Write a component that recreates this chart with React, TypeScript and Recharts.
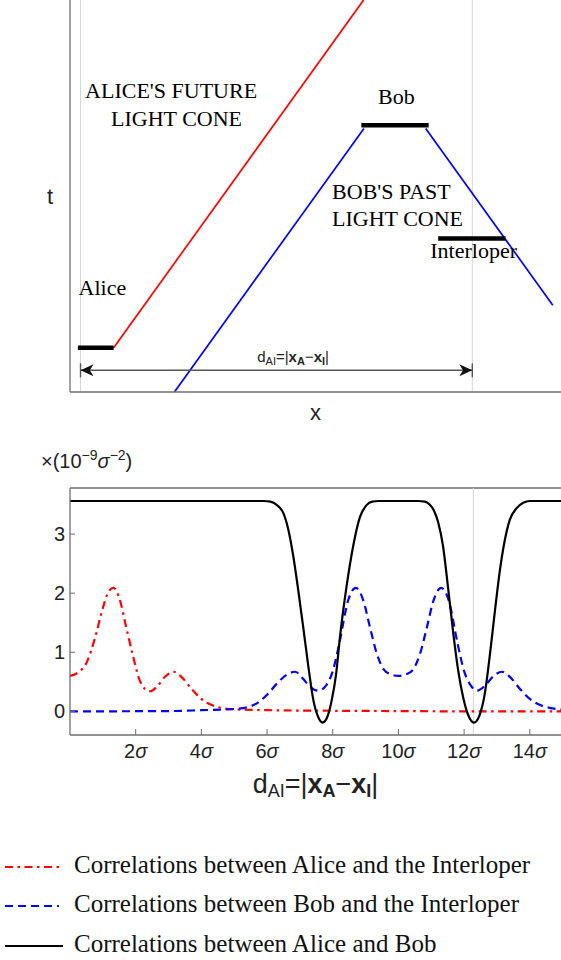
import React from 'react';
import { ComposedChart, Line, XAxis, YAxis, ReferenceLine, ReferenceDot } from 'recharts';

const SERIF = "'Liberation Serif', 'Times New Roman', serif";
const SANS = "'Liberation Sans', Arial, sans-serif";
const AXIS = '#6e6e6e';

// ---------- Top: spacetime diagram (diagram units) ----------
const detectorNames = ['Alice', 'Bob', 'Interloper'];
const detectorXStart = [0.24, 8.87, 11.21];
const detectorXEnd = [1.33, 10.92, 13.26];
const detectorT = [0.97, 5.84, 3.36];

const aliceConeX = [1.33, 8.94];
const aliceConeT = [0.97, 8.58];
const bobConeLeftX = [8.95, 3.18];
const bobConeLeftT = [5.77, 0];
const bobConeRightX = [10.83, 14.7];
const bobConeRightT = [5.77, 1.9];

const positionMarksX = [0.32, 12.25]; // x_A and x_I
const separationT = 0.475;

const annotationText = ["ALICE'S FUTURE", 'LIGHT CONE', 'Bob', "BOB'S PAST", 'LIGHT CONE', 'Interloper', 'Alice'];
const annotationX = [0.46, 1.25, 9.38, 7.98, 7.98, 10.97, 0.26];
const annotationT = [6.44, 5.83, 6.3, 4.22, 3.64, 2.93, 2.12];
const separationLabelX = 5.7;
const separationLabelT = 0.66;

// ---------- Bottom: correlations vs d_AI (in sigma) ----------
const aliceInterloperX = [0, 0.25, 0.5, 0.75, 1.0, 1.15, 1.32, 1.5, 1.7, 1.9, 2.1, 2.28, 2.44, 2.65, 2.9, 3.15, 3.4, 3.7, 4.0, 4.3, 4.6, 5.0, 6.0, 8.0, 10.0, 12.0, 15.0];
const aliceInterloperY = [0.6, 0.66, 0.82, 1.22, 1.75, 2.0, 2.09, 1.92, 1.45, 0.98, 0.56, 0.38, 0.34, 0.42, 0.59, 0.67, 0.58, 0.38, 0.21, 0.11, 0.06, 0.035, 0.02, 0.01, 0.005, 0.0, 0.0];

const bobInterloperX = [0, 3.0, 4.0, 5.0, 5.4, 5.7, 6.0, 6.3, 6.6, 6.85, 7.1, 7.3, 7.56, 7.8, 8.0, 8.2, 8.47, 8.7, 8.93, 9.13, 9.34, 9.55, 9.75, 10.0, 10.25, 10.45, 10.66, 10.87, 11.07, 11.3, 11.53, 11.8, 12.0, 12.2, 12.4, 12.66, 12.9, 13.15, 13.4, 13.7, 14.0, 14.3, 14.6, 15.0];
const bobInterloperY = [0, 0.005, 0.02, 0.04, 0.07, 0.14, 0.28, 0.47, 0.62, 0.67, 0.55, 0.42, 0.35, 0.44, 0.68, 1.15, 1.88, 2.09, 1.88, 1.43, 0.98, 0.71, 0.63, 0.6, 0.63, 0.71, 0.98, 1.43, 1.88, 2.09, 1.88, 1.15, 0.68, 0.44, 0.35, 0.45, 0.6, 0.67, 0.58, 0.38, 0.21, 0.11, 0.06, 0.03];

const aliceBobX = [0, 5.9, 6.1, 6.3, 6.5, 6.65, 6.8, 6.95, 7.1, 7.26, 7.41, 7.56, 7.69, 7.83, 7.97, 8.1, 8.22, 8.42, 8.62, 8.83, 9.03, 9.2, 9.4, 10.6, 10.8, 10.95, 11.08, 11.21, 11.36, 11.52, 11.67, 11.82, 11.97, 12.13, 12.3, 12.46, 12.63, 12.79, 12.94, 13.09, 13.24, 13.39, 13.6, 13.8, 14.0, 15.0];
const aliceBobY = [3.56, 3.56, 3.55, 3.49, 3.35, 3.07, 2.62, 2.05, 1.43, 0.75, 0.19, -0.1, -0.19, -0.1, 0.19, 0.62, 1.26, 2.11, 2.79, 3.29, 3.49, 3.55, 3.56, 3.56, 3.55, 3.5, 3.4, 3.2, 2.79, 2.05, 1.32, 0.69, 0.24, -0.07, -0.19, -0.08, 0.3, 0.98, 1.71, 2.39, 2.9, 3.24, 3.44, 3.53, 3.56, 3.56];

const xTicks = [2, 4, 6, 8, 10, 12, 14];
const yTicks = [0, 1, 2, 3];
const interloperMarkX = 12.28;
const yDomain = [-0.4, 3.78];

const seriesNames = [
  'Correlations between Alice and the Interloper',
  'Correlations between Bob and the Interloper',
  'Correlations between Alice and Bob',
];
const seriesColors = ['#ff0000', '#0000ff', '#000000'];
const seriesDash = ['8 4.5 2.5 4.5', '8 5', ''];

const zipXY = (xs: number[], ys: number[], key: string) => xs.map((x, i) => ({ x, [key]: ys[i] }));

const textShape = (content: string) => (p: any) => (
  <text x={p.cx} y={p.cy} fontFamily={SERIF} fontSize={22} fill="#000">
    {content}
  </text>
);

const separationLabelShape = (p: any) => (
  <text x={p.cx} y={p.cy} fontFamily={SANS} fontSize={15} fill="#222">
    d<tspan fontSize={11} dy={3}>AI</tspan>
    <tspan dy={-3}>=|</tspan>
    <tspan fontWeight="bold">x</tspan>
    <tspan fontWeight="bold" fontSize={11} dy={3}>A</tspan>
    <tspan dy={-3}>−</tspan>
    <tspan fontWeight="bold">x</tspan>
    <tspan fontWeight="bold" fontSize={11} dy={3}>I</tspan>
    <tspan dy={-3}>|</tspan>
  </text>
);

const arrowShape = (p: any) => {
  const { x1, y1, x2 } = p;
  const y = y1;
  const L = 13;
  const H = 6;
  return (
    <g>
      <line x1={x1} y1={y} x2={x2} y2={y} stroke="#555" strokeWidth={1.4} />
      <line x1={x1} y1={y - 7} x2={x1} y2={y + 7} stroke="#555" strokeWidth={1.4} />
      <line x1={x2} y1={y - 7} x2={x2} y2={y + 7} stroke="#555" strokeWidth={1.4} />
      <polygon points={`${x1},${y} ${x1 + L},${y - H} ${x1 + L * 0.72},${y} ${x1 + L},${y + H}`} fill="#111" />
      <polygon points={`${x2},${y} ${x2 - L},${y - H} ${x2 - L * 0.72},${y} ${x2 - L},${y + H}`} fill="#111" />
    </g>
  );
};

const XTick = (p: any) => {
  const { x, y, payload } = p;
  return (
    <g>
      <line x1={x} y1={y - 6} x2={x} y2={y} stroke={AXIS} strokeWidth={1} />
      <text x={x} y={y + 23} textAnchor="middle" fontFamily={SANS} fontSize={20} fill="#222">
        {payload.value}
        <tspan fontStyle="italic">σ</tspan>
      </text>
    </g>
  );
};

const YTick = (p: any) => {
  const { x, y, payload } = p;
  return (
    <g>
      <line x1={x} y1={y} x2={x + 5} y2={y} stroke={AXIS} strokeWidth={1} />
      <text x={x - 5} y={y + 7} textAnchor="end" fontFamily={SANS} fontSize={20} fill="#222">
        {payload.value}
      </text>
    </g>
  );
};

const yUnitLabel = (p: any) => {
  const vb = p.viewBox || { x: 0, y: 488 };
  return (
    <text x={vb.x + 41} y={vb.y - 20} fontFamily={SANS} fontSize={20} fill="#222">
      ×(10<tspan fontSize={14} dy={-8}>−9</tspan>
      <tspan dy={8} fontStyle="italic">σ</tspan>
      <tspan fontSize={14} dy={-8}>−2</tspan>
      <tspan dy={8}>)</tspan>
    </text>
  );
};

const xTitleLabel = (p: any) => {
  const vb = p.viewBox || { x: 70, y: 735, width: 491 };
  return (
    <text x={vb.x + vb.width / 2} y={vb.y + 58} textAnchor="middle" fontFamily={SANS} fontSize={27} fill="#222">
      d<tspan fontSize={18} dy={4}>AI</tspan>
      <tspan dy={-4}>=|</tspan>
      <tspan fontWeight="bold">x</tspan>
      <tspan fontWeight="bold" fontSize={18} dy={4}>A</tspan>
      <tspan dy={-4}>−</tspan>
      <tspan fontWeight="bold">x</tspan>
      <tspan fontWeight="bold" fontSize={18} dy={4}>I</tspan>
      <tspan dy={-4}>|</tspan>
    </text>
  );
};

const tLabel = (p: any) => {
  const vb = p.viewBox || { x: 0, y: 0, height: 392 };
  return (
    <text x={50} y={vb.y + vb.height / 2 + 8} textAnchor="middle" fontFamily={SANS} fontSize={22} fill="#222">
      t
    </text>
  );
};

const xLabel = (p: any) => {
  const vb = p.viewBox || { x: 70, y: 392, width: 491 };
  return (
    <text x={vb.x + vb.width / 2} y={vb.y + 28} textAnchor="middle" fontFamily={SANS} fontSize={22} fill="#222">
      x
    </text>
  );
};

function SpacetimeDiagram() {
  const aliceCone = zipXY(aliceConeX, aliceConeT, 't');
  const bobLeft = zipXY(bobConeLeftX, bobConeLeftT, 't');
  const bobRight = zipXY(bobConeRightX, bobConeRightT, 't');
  return (
    <ComposedChart width={561} height={430} margin={{ top: 0, right: 0, bottom: 0, left: 0 }}>
      <XAxis
        type="number"
        dataKey="x"
        domain={[0, 14.95]}
        allowDataOverflow
        height={38}
        tick={false}
        tickLine={false}
        axisLine={{ stroke: AXIS, strokeWidth: 1.3 }}
        label={{ content: xLabel }}
      />
      <YAxis
        type="number"
        dataKey="t"
        domain={[0, 8.58]}
        allowDataOverflow
        width={70}
        tick={false}
        tickLine={false}
        axisLine={{ stroke: AXIS, strokeWidth: 1.3 }}
        label={{ content: tLabel }}
      />
      {positionMarksX.map((x, i) => (
        <ReferenceLine key={'pm' + i} x={x} stroke="#d6d6d6" strokeWidth={1} />
      ))}
      <Line data={aliceCone} dataKey="t" type="linear" stroke="#ff0000" strokeWidth={1.7} dot={false} isAnimationActive={false} />
      <Line data={bobLeft} dataKey="t" type="linear" stroke="#0000ff" strokeWidth={1.7} dot={false} isAnimationActive={false} />
      <Line data={bobRight} dataKey="t" type="linear" stroke="#0000ff" strokeWidth={1.7} dot={false} isAnimationActive={false} />
      {detectorNames.map((n, i) => (
        <ReferenceLine
          key={n}
          segment={[
            { x: detectorXStart[i], y: detectorT[i] },
            { x: detectorXEnd[i], y: detectorT[i] },
          ]}
          stroke="#000"
          strokeWidth={4.5}
        />
      ))}
      <ReferenceLine
        segment={[
          { x: positionMarksX[0], y: separationT },
          { x: positionMarksX[1], y: separationT },
        ]}
        shape={arrowShape}
      />
      {annotationText.map((s, i) => (
        <ReferenceDot key={'an' + i} x={annotationX[i]} y={annotationT[i]} r={1} shape={textShape(s)} />
      ))}
      <ReferenceDot x={separationLabelX} y={separationLabelT} r={1} shape={separationLabelShape} />
    </ComposedChart>
  );
}

function CorrelationChart() {
  const ai = zipXY(aliceInterloperX, aliceInterloperY, 'v');
  const bi = zipXY(bobInterloperX, bobInterloperY, 'v');
  const ab = zipXY(aliceBobX, aliceBobY, 'v');
  const sets = [ai, bi, ab];
  return (
    <ComposedChart width={561} height={370} margin={{ top: 58, right: 0, bottom: 0, left: 0 }}>
      <XAxis
        type="number"
        dataKey="x"
        domain={[0, 14.95]}
        allowDataOverflow
        ticks={xTicks}
        height={65}
        tickSize={0}
        tickMargin={0}
        tickLine={false}
        tick={<XTick />}
        interval={0}
        axisLine={{ stroke: AXIS, strokeWidth: 1.3 }}
        label={{ content: xTitleLabel }}
      />
      <YAxis
        type="number"
        dataKey="v"
        domain={yDomain}
        allowDataOverflow
        ticks={yTicks}
        width={70}
        tickSize={0}
        tickMargin={0}
        tickLine={false}
        tick={<YTick />}
        interval={0}
        axisLine={{ stroke: AXIS, strokeWidth: 1.3 }}
        label={{ content: yUnitLabel }}
      />
      <ReferenceLine y={yDomain[1]} stroke={AXIS} strokeWidth={1.3} />
      <ReferenceLine x={interloperMarkX} stroke="#d6d6d6" strokeWidth={1} />
      {sets.map((d, i) => (
        <Line
          key={seriesNames[i]}
          data={d}
          dataKey="v"
          name={seriesNames[i]}
          type="monotone"
          stroke={seriesColors[i]}
          strokeWidth={2.2}
          strokeDasharray={seriesDash[i] || undefined}
          dot={false}
          isAnimationActive={false}
        />
      ))}
    </ComposedChart>
  );
}

function LegendBlock() {
  const rowY = [67, 106, 146];
  const sampleEnd = [59, 59, 63];
  return (
    <svg width={561} height={160} style={{ display: 'block' }}>
      {seriesNames.map((n, i) => (
        <g key={n}>
          <line
            x1={5}
            x2={sampleEnd[i]}
            y1={rowY[i]}
            y2={rowY[i]}
            stroke={seriesColors[i]}
            strokeWidth={2.2}
            strokeDasharray={seriesDash[i] || undefined}
          />
          <text x={74} y={rowY[i] + 6} fontFamily={SERIF} fontSize={25} fill="#111">
            {n}
          </text>
        </g>
      ))}
    </svg>
  );
}

export default function App() {
  return (
    <div style={{ position: 'absolute', left: 0, top: 0, width: 561, height: 960, background: '#fff', overflow: 'hidden' }}>
      <div style={{ position: 'absolute', left: 0, top: 0 }}>
        <SpacetimeDiagram />
      </div>
      <div style={{ position: 'absolute', left: 0, top: 430 }}>
        <CorrelationChart />
      </div>
      <div style={{ position: 'absolute', left: 0, top: 800 }}>
        <LegendBlock />
      </div>
    </div>
  );
}
